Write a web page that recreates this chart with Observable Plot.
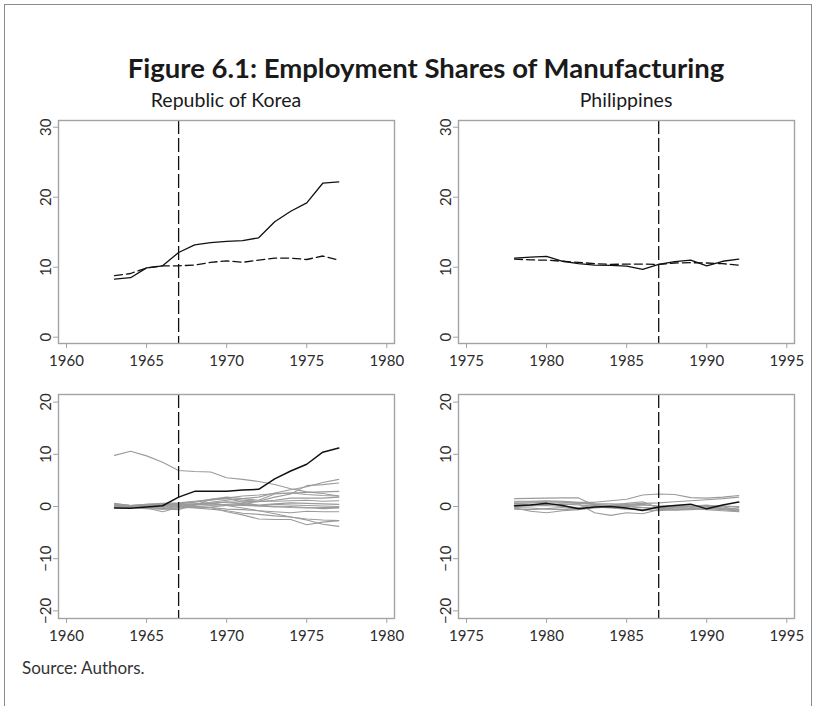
<!DOCTYPE html>
<html>
<head>
<meta charset="utf-8">
<script src="https://cdn.jsdelivr.net/npm/d3@7"></script>
<script src="https://cdn.jsdelivr.net/npm/@observablehq/plot@0.6"></script>
<style>
  body { margin: 0; background: #fff; }
  #fig { position: relative; width: 816px; height: 706px; overflow: hidden; font-family: Lato, "Noto Sans", sans-serif; color: #222; }
  #border { position: absolute; left: 4px; top: 4px; width: 806px; height: 720px; border: 1.5px solid #8a8a8a; }
  #title { position: absolute; left: 26px; width: 800px; top: 52px; text-align: center; font-weight: 700; font-size: 27.5px; line-height: 32px; color: #1a1a1a; }
  .sub { position: absolute; width: 400px; top: 88px; text-align: center; font-size: 19.5px; line-height: 24px; color: #1a1a1a; }
  .panel { position: absolute; width: 416px; }
  #source { position: absolute; left: 22px; top: 657px; font-size: 17px; line-height: 22px; color: #333; }
</style>
</head>
<body>
<div id="fig">
  <div id="border"></div>
  <div id="title">Figure 6.1: Employment Shares of Manufacturing</div>
  <div class="sub" style="left:26px">Republic of Korea</div>
  <div class="sub" style="left:426px">Philippines</div>
  <div class="panel" id="korTop" style="left:0;top:110px"></div>
  <div class="panel" id="phlTop" style="left:400px;top:110px"></div>
  <div class="panel" id="korBottom" style="left:0;top:384px"></div>
  <div class="panel" id="phlBottom" style="left:400px;top:384px"></div>
  <div id="source">Source: Authors.</div>
</div>
<script>
// Republic of Korea: manufacturing employment share (%), actual vs synthetic
const korYears = [1963, 1964, 1965, 1966, 1967, 1968, 1969, 1970, 1971, 1972, 1973, 1974, 1975, 1976, 1977];
const korActual = [8.3, 8.5, 9.9, 10.2, 12.1, 13.2, 13.5, 13.7, 13.8, 14.2, 16.5, 18.0, 19.2, 22.0, 22.2];
const korSynthetic = [8.8, 9.1, 9.9, 10.2, 10.2, 10.3, 10.7, 10.9, 10.7, 11.0, 11.3, 11.3, 11.1, 11.6, 11.0];
const korTreatYear = 1967;

// Korea gap (actual minus synthetic) and placebo gaps for donor economies
const korGap = [-0.3, -0.35, -0.1, 0.15, 1.8, 2.9, 2.9, 2.9, 3.15, 3.3, 5.3, 6.8, 8.1, 10.4, 11.2];
const korPlacebos = [
  [9.8, 10.6, 9.7, 8.5, 6.9, 6.7, 6.6, 5.5, 5.2, 4.8, 4.2, 3.4, 2.8, 2.5, 2.0],
  [0.3, 0.0, 0.2, 0.5, 0.3, 0.5, 0.8, 1.2, 1.5, 1.8, 2.6, 3.2, 3.8, 4.6, 5.2],
  [0.5, 0.2, 0.4, 0.6, 0.7, 1.0, 1.3, 1.5, 1.2, 1.0, 1.8, 2.4, 4.0, 4.2, 4.5],
  [0.0, 0.1, 0.3, 0.2, 0.5, 0.8, 1.2, 1.6, 2.0, 2.2, 2.5, 2.6, 2.7, 2.8, 2.9],
  [0.2, 0.0, 0.3, 0.4, 0.6, 0.9, 1.4, 1.8, 1.5, 1.2, 2.4, 2.6, 2.3, 2.1, 2.0],
  [0.0, -0.2, 0.0, 0.2, 0.4, 0.5, 0.6, 0.8, 0.9, 1.0, 1.0, 1.1, 1.2, 1.0, 1.1],
  [0.3, 0.2, 0.4, 0.5, 0.3, 0.4, 0.6, 0.3, 0.2, 0.1, 0.4, 0.3, 0.2, 0.1, 0.0],
  [0.0, 0.0, 0.1, 0.0, -0.1, 0.2, 1.4, 1.6, 0.8, 0.2, 0.0, -0.2, -0.3, -0.2, -0.2],
  [-0.2, -0.3, 0.0, -0.5, -0.3, -0.2, -0.1, 0.2, 0.4, 0.1, -0.1, 0.0, -0.2, -0.4, -0.3],
  [0.0, 0.1, 0.2, 0.3, 0.2, 0.0, -0.2, -0.5, -0.6, -0.8, -1.0, -1.2, -0.9, -1.0, -1.0],
  [0.4, 0.2, 0.3, 0.2, 0.0, -0.3, -0.5, -0.8, -1.3, -1.5, -1.8, -2.0, -2.4, -2.6, -2.7],
  [0.1, -0.1, -0.3, -0.2, 0.0, -0.2, -0.2, -1.0, -1.6, -2.4, -2.5, -2.5, -3.5, -3.0, -2.7],
  [0.0, -0.2, -0.4, -0.5, 0.1, 0.3, 0.5, 0.2, -0.3, -0.8, -1.4, -2.0, -2.6, -3.4, -3.8],
  [0.6, 0.2, -0.3, -1.0, -0.2, 0.0, 0.2, 0.4, 0.6, 0.9, 1.2, 1.6, 1.6, 1.6, 1.8],
  [0.2, 0.1, 0.0, -0.4, -0.6, 0.3, 0.6, 0.9, 0.5, 0.3, 0.5, 0.7, 0.6, 0.5, 0.4]
];

// Philippines: manufacturing employment share (%), actual vs synthetic
const phlYears = [1978, 1979, 1980, 1981, 1982, 1983, 1984, 1985, 1986, 1987, 1988, 1989, 1990, 1991, 1992];
const phlActual = [11.3, 11.45, 11.55, 10.85, 10.5, 10.3, 10.25, 10.15, 9.7, 10.4, 10.8, 11.0, 10.2, 10.85, 11.15];
const phlSynthetic = [11.15, 11.05, 11.0, 10.85, 10.7, 10.5, 10.4, 10.45, 10.45, 10.4, 10.6, 10.65, 10.6, 10.5, 10.3];
const phlTreatYear = 1987;

// Philippines gap and placebo gaps
const phlGap = [0.15, 0.3, 0.6, 0.2, -0.45, -0.1, 0.0, -0.3, -0.75, -0.1, 0.2, 0.45, -0.45, 0.3, 0.85];
const phlPlacebos = [
  [1.5, 1.55, 1.6, 1.65, 1.65, 0.2, -0.2, -0.4, -0.2, -0.3, 0.0, 0.1, 0.0, -0.3, -0.5],
  [1.0, 1.0, 1.1, 1.0, 0.8, 0.8, 1.1, 1.4, 2.2, 2.4, 2.3, 1.7, 1.6, 1.8, 2.1],
  [0.5, 0.4, 0.3, 0.4, 0.5, -1.2, -1.7, -1.2, -1.4, -0.6, -0.3, -0.2, 0.0, -0.4, -0.9],
  [-0.3, -0.9, -1.2, -0.8, -0.6, -0.2, 0.1, 0.3, 0.4, 0.0, -0.2, 0.1, 0.3, -0.1, -0.6],
  [0.6, 0.7, 0.8, 0.9, 0.7, 0.5, 0.5, 0.4, 0.6, 0.7, 0.9, 1.1, 1.3, 1.5, 1.8],
  [0.0, 0.1, 0.2, 0.0, -0.2, 0.2, 0.3, 0.6, 0.9, -0.3, -0.5, -0.4, -0.6, -0.8, -1.0],
  [-0.5, -0.6, -0.4, -0.2, -0.5, -0.3, -0.1, 0.0, -0.2, -0.5, -0.7, -0.6, -0.4, -0.5, -0.7],
  [0.3, 0.2, 0.4, 0.5, 0.3, 0.1, 0.0, 0.2, 0.3, 0.1, 0.2, 0.0, -0.1, 0.1, -0.2],
  [-0.2, -0.3, -0.5, -0.6, -0.4, -0.1, -0.3, -0.5, -0.6, -0.8, -0.6, -0.4, -0.3, -0.6, -0.9],
  [0.8, 0.9, 0.9, 0.8, 0.6, 0.4, 0.2, 0.1, -0.2, -0.4, -0.2, 0.0, 0.2, 0.1, 0.0]
];

// Axis ticks
const korXTicks = [1960, 1965, 1970, 1975, 1980];
const phlXTicks = [1975, 1980, 1985, 1990, 1995];
const levelTicks = [0, 10, 20, 30];
const gapTicks = [-20, -10, 0, 10, 20];

const korXDomain = [1959.5, 1980.48];
const phlXDomain = [1974.5, 1995.48];
const levelDomain = [-0.9, 30.96];
const gapDomain = [-21.46, 21.46];

const frameColor = "#a3a3a3";
const textColor = "#2b2b2b";

function series(years, values) {
  return years.map((year, i) => ({year, value: values[i]}));
}

function axes(xTicks, yTicks) {
  return [
    Plot.axisX(xTicks, {label: null, tickSize: 5, tickPadding: 7, stroke: frameColor, fill: textColor, fontSize: 15, tickFormat: d => String(d)}),
    Plot.axisY(yTicks, {label: null, tickSize: 5, tickPadding: 3, stroke: frameColor, fill: textColor, fontSize: 15, tickRotate: -90})
  ];
}

function panel({xDomain, yDomain, xTicks, yTicks, treat, innerHeight, marks}) {
  const marginTop = 10, marginBottom = 32;
  return Plot.plot({
    width: 416,
    height: marginTop + innerHeight + marginBottom,
    marginLeft: 58,
    marginRight: 22,
    marginTop,
    marginBottom,
    style: {background: "transparent", fontFamily: "Lato, sans-serif", fontSize: "15px", color: textColor, overflow: "visible"},
    x: {domain: xDomain, label: null},
    y: {domain: yDomain, label: null},
    marks: [
      ...marks,
      Plot.ruleX([treat], {stroke: "#111", strokeWidth: 1.3, strokeDasharray: "14,4"}),
      Plot.frame({stroke: frameColor, strokeWidth: 1.4}),
      ...axes(xTicks, yTicks)
    ]
  });
}

function levelMarks(years, actual, synthetic) {
  return [
    Plot.line(series(years, synthetic), {x: "year", y: "value", stroke: "#111", strokeWidth: 1.3, strokeDasharray: "8,4"}),
    Plot.line(series(years, actual), {x: "year", y: "value", stroke: "#111", strokeWidth: 1.3})
  ];
}

function gapMarks(years, gap, placebos) {
  const donorRows = placebos.flatMap((vals, k) => years.map((year, i) => ({donor: k, year, value: vals[i]})));
  return [
    Plot.line(donorRows, {x: "year", y: "value", z: "donor", stroke: "#9b9b9b", strokeWidth: 1.1}),
    Plot.line(series(years, gap), {x: "year", y: "value", stroke: "#111", strokeWidth: 1.5})
  ];
}

document.getElementById("korTop").append(panel({
  xDomain: korXDomain, yDomain: levelDomain, xTicks: korXTicks, yTicks: levelTicks,
  treat: korTreatYear, innerHeight: 223, marks: levelMarks(korYears, korActual, korSynthetic)
}));
document.getElementById("phlTop").append(panel({
  xDomain: phlXDomain, yDomain: levelDomain, xTicks: phlXTicks, yTicks: levelTicks,
  treat: phlTreatYear, innerHeight: 223, marks: levelMarks(phlYears, phlActual, phlSynthetic)
}));
document.getElementById("korBottom").append(panel({
  xDomain: korXDomain, yDomain: gapDomain, xTicks: korXTicks, yTicks: gapTicks,
  treat: korTreatYear, innerHeight: 224, marks: gapMarks(korYears, korGap, korPlacebos)
}));
document.getElementById("phlBottom").append(panel({
  xDomain: phlXDomain, yDomain: gapDomain, xTicks: phlXTicks, yTicks: gapTicks,
  treat: phlTreatYear, innerHeight: 224, marks: gapMarks(phlYears, phlGap, phlPlacebos)
}));
</script>
</body>
</html>
